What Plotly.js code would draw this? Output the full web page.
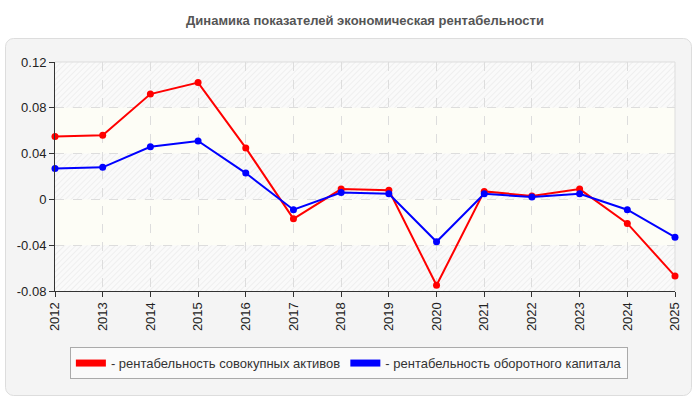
<!DOCTYPE html>
<html>
<head>
<meta charset="utf-8">
<script src="https://cdn.plot.ly/plotly-3.0.1.min.js"></script>
<style>
  html, body { margin: 0; padding: 0; background: #ffffff; }
  #chart { width: 700px; height: 400px; }
</style>
</head>
<body>
<div id="chart"></div>
<script>
// Years on the x axis
const years = ["2012", "2013", "2014", "2015", "2016", "2017", "2018",
               "2019", "2020", "2021", "2022", "2023", "2024", "2025"];

// Return on total assets (red)
const assetsReturn = [0.055, 0.056, 0.092, 0.102, 0.045, -0.017, 0.009,
                      0.008, -0.075, 0.007, 0.003, 0.009, -0.021, -0.067];

// Return on working capital (blue)
const capitalReturn = [0.027, 0.028, 0.046, 0.051, 0.023, -0.009, 0.006,
                       0.005, -0.037, 0.005, 0.002, 0.005, -0.009, -0.033];

// Y tick values and labels
const yTicks = [0.12, 0.08, 0.04, 0, -0.04, -0.08];
const yLabels = ["0.12", "0.08", "0.04", "0", "-0.04", "-0.08"];

// Series names
const names = ["- рентабельность совокупных активов", "- рентабельность оборотного капитала"];
const colors = ["#ff0000", "#0000ff"];

// Background pictures: grey rounded panel and hatched plot area
const panelSvg = 'data:image/svg+xml;utf8,' + encodeURIComponent(
  '<svg xmlns="http://www.w3.org/2000/svg" width="688" height="358">' +
  '<rect x="0.5" y="0.5" width="687" height="357" rx="8" ry="8" fill="#f4f4f4" stroke="#dddddd"/></svg>');
const hatchSvg = 'data:image/svg+xml;utf8,' + encodeURIComponent(
  '<svg xmlns="http://www.w3.org/2000/svg" width="620" height="229">' +
  '<defs><pattern id="h" width="4" height="4" patternUnits="userSpaceOnUse" patternTransform="rotate(45)">' +
  '<rect width="4" height="4" fill="#fafafa"/><line x1="0" y1="0" x2="0" y2="4" stroke="#e8e8e8" stroke-width="1.2"/></pattern></defs>' +
  '<rect width="620" height="229" fill="url(#h)"/></svg>');

// Line traces
let traces = [
  {
    x: years, y: assetsReturn, name: names[0], type: "scatter", mode: "lines+markers",
    line: { color: colors[0], width: 2 }, marker: { color: colors[0], size: 7 },
    cliponaxis: false, showlegend: false
  },
  {
    x: years, y: capitalReturn, name: names[1], type: "scatter", mode: "lines+markers",
    line: { color: colors[1], width: 2 }, marker: { color: colors[1], size: 7 },
    cliponaxis: false, showlegend: false
  }
];

// Legend entries with a solid swatch
for (let i = 0; i < names.length; i++) {
  traces.push({
    x: [null], y: [null], name: names[i], type: "scatter", mode: "lines",
    line: { color: colors[i], width: 7 }, hoverinfo: "skip"
  });
}

// Light bands between alternate grid lines
let bands = [];
for (let i = 1; i < yTicks.length - 1; i += 2) {
  bands.push({
    type: "rect", layer: "below", xref: "paper", yref: "y",
    x0: 0, x1: 1, y0: yTicks[i + 1], y1: yTicks[i],
    fillcolor: "#fdfdf6", line: { width: 0 }
  });
}
// Light top and right border of the plot area
bands.push({
  type: "path", layer: "below", xref: "paper", yref: "paper",
  path: "M0,1 L1,1 L1,0", line: { color: "#dddddd", width: 1 }
});

let layout = {
  width: 700,
  height: 400,
  margin: { l: 55, r: 25, t: 62, b: 109 },
  paper_bgcolor: "#ffffff",
  plot_bgcolor: "rgba(0,0,0,0)",
  font: { family: "Liberation Sans, Arial, sans-serif", size: 13, color: "#222222" },
  title: {
    text: "Динамика показателей экономическая рентабельности",
    font: { family: "Liberation Sans, Arial, sans-serif", size: 13, color: "#555555", weight: "bold" },
    x: 0.5, xanchor: "center", xref: "paper", y: 0.95, yanchor: "middle", yref: "container"
  },
  xaxis: {
    type: "category",
    range: [0, years.length - 1],
    tickangle: -90,
    ticks: "outside", ticklen: 5, tickcolor: "#333333",
    showline: true, linecolor: "#333333", linewidth: 1,
    showgrid: true, gridcolor: "#dddddd", griddash: "dash", gridwidth: 1,
    zeroline: false,
    tickfont: { size: 13, color: "#222222" }
  },
  yaxis: {
    range: [-0.08, 0.12],
    tickvals: yTicks, ticktext: yLabels,
    ticks: "outside", ticklen: 5, tickcolor: "#333333",
    showline: true, linecolor: "#333333", linewidth: 1,
    showgrid: true, gridcolor: "#dddddd", griddash: "dash", gridwidth: 1,
    zeroline: false,
    tickfont: { size: 13, color: "#222222" }
  },
  legend: {
    orientation: "h",
    x: 0.474, xanchor: "center",
    y: -0.245, yanchor: "top",
    bgcolor: "#fafafa", bordercolor: "#aaaaaa", borderwidth: 1,
    font: { size: 13, color: "#333333" },
    itemwidth: 30
  },
  images: [
    {
      source: panelSvg, xref: "paper", yref: "paper",
      x: -0.0806, y: 1.1048, sizex: 1.108, sizey: 1.5633,
      xanchor: "left", yanchor: "top", sizing: "stretch", layer: "below"
    },
    {
      source: hatchSvg, xref: "paper", yref: "paper",
      x: 0, y: 1, sizex: 1, sizey: 1,
      xanchor: "left", yanchor: "top", sizing: "stretch", layer: "below"
    }
  ],
  shapes: bands,
  showlegend: true
};

Plotly.newPlot("chart", traces, layout, { displayModeBar: false, staticPlot: true });
</script>
</body>
</html>
